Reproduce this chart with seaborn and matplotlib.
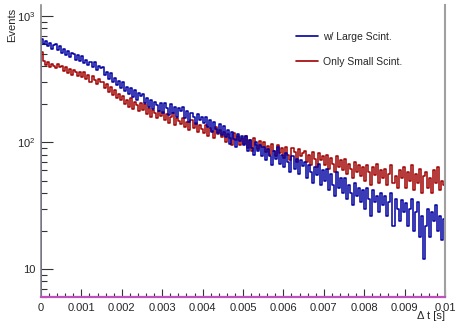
import numpy as np
import pandas as pd
import seaborn as sns
import matplotlib.pyplot as plt
from matplotlib.lines import Line2D
from matplotlib.ticker import FixedLocator, FixedFormatter, NullFormatter

# ---------------- data (counts per bin, 200 bins over 0 .. 0.01 s) ----------------
x_min, x_max, n_bins = 0.0, 0.01, 200

large_scint = [
    655, 598, 630, 575, 612, 548, 590, 603, 540, 575,
    505, 548, 492, 525, 470, 510, 498, 452, 487, 440,
    478, 425, 452, 410, 436, 395, 430, 372, 405, 388,
    392, 340, 360, 318, 352, 300, 326, 282, 305, 270,
    298, 255, 276, 240, 268, 228, 258, 215, 245, 232,
    240, 205, 226, 190, 218, 184, 210, 198, 178, 205,
    172, 205, 186, 165, 200, 170, 192, 160, 188, 176,
    190, 155, 178, 146, 172, 160, 140, 168, 150, 158,
    142, 160, 132, 150, 122, 145, 128, 118, 140, 115,
    134, 110, 125, 98, 120, 106, 92, 116, 102, 112,
    96, 112, 85, 104, 90, 80, 100, 86, 96, 78,
    92, 72, 88, 78, 66, 86, 74, 92, 68, 80,
    64, 82, 70, 58, 78, 62, 74, 56, 72, 65,
    70, 52, 66, 58, 48, 64, 55, 68, 46, 60,
    50, 62, 42, 56, 46, 38, 58, 44, 52, 40,
    52, 36, 46, 40, 32, 48, 38, 44, 34, 42,
    30, 44, 36, 26, 42, 34, 38, 28, 40, 32,
    38, 26, 34, 40, 22, 36, 30, 24, 35, 28,
    33, 22, 30, 36, 20, 28, 34, 18, 26, 12,
    22, 30, 18, 28, 24, 32, 20, 26, 17, 25,
]

small_scint = [
    520, 440, 412, 435, 398, 420, 402, 385, 418, 392,
    405, 370, 392, 355, 380, 340, 372, 362, 335, 358,
    330, 362, 318, 342, 300, 335, 312, 290, 320, 298,
    302, 270, 288, 250, 272, 238, 258, 226, 242, 215,
    232, 200, 218, 190, 225, 185, 210, 196, 178, 205,
    180, 200, 168, 188, 160, 182, 172, 155, 178, 162,
    175, 150, 168, 142, 160, 172, 138, 156, 148, 140,
    155, 132, 146, 125, 150, 130, 142, 120, 138, 128,
    118, 138, 112, 130, 124, 108, 132, 116, 126, 110,
    122, 100, 116, 108, 96, 118, 104, 112, 95, 108,
    98, 112, 90, 104, 86, 108, 95, 88, 102, 92,
    100, 84, 94, 80, 98, 86, 78, 96, 82, 90,
    76, 92, 80, 72, 90, 84, 70, 88, 78, 82,
    86, 70, 80, 66, 84, 74, 64, 82, 72, 78,
    66, 80, 62, 76, 68, 58, 78, 64, 72, 60,
    74, 56, 68, 62, 52, 70, 58, 66, 54, 64,
    50, 66, 58, 46, 64, 55, 68, 48, 60, 52,
    62, 46, 56, 66, 48, 54, 44, 60, 52, 64,
    44, 58, 50, 66, 42, 56, 48, 62, 40, 54,
    58, 44, 52, 40, 60, 48, 64, 42, 50, 46,
]

labels = ["w/ Large Scint.", "Only Small Scint."]
colors = ["#0000a0", "#a00000"]

x_ticks = [0, 0.001, 0.002, 0.003, 0.004, 0.005, 0.006, 0.007, 0.008, 0.009, 0.01]
x_tick_labels = ["0", "0.001", "0.002", "0.003", "0.004", "0.005",
                 "0.006", "0.007", "0.008", "0.009", "0.01"]
y_ticks = [10, 100, 1000]
y_tick_labels = ["10", r"$10^{2}$", r"$10^{3}$"]

# ---------------- figure ----------------
sns.set_style("white")
plt.rcParams["font.family"] = ["Liberation Sans", "DejaVu Sans"]
plt.rcParams["mathtext.fontset"] = "custom"
plt.rcParams["mathtext.rm"] = "Liberation Sans"

fig = plt.figure(figsize=(4.57, 3.22), dpi=100)
ax = fig.add_axes([41 / 457, 1 - 297 / 322, (445 - 41) / 457, (297 - 5) / 322])

edges = np.linspace(x_min, x_max, n_bins + 1)
centers = 0.5 * (edges[:-1] + edges[1:])

df = pd.DataFrame({
    "t": np.concatenate([centers, centers]),
    "counts": np.concatenate([small_scint, large_scint]).astype(float),
    "series": [labels[1]] * n_bins + [labels[0]] * n_bins,
})

ax.set_yscale("log")
for lab, col in [(labels[1], colors[1]), (labels[0], colors[0])]:
    sub = df[df["series"] == lab]
    sns.histplot(data=sub, x="t", weights="counts", bins=n_bins,
                 binrange=(x_min, x_max), element="step",
                 fill=False, color=col, linewidth=1.1, ax=ax, legend=False)
    ax.vlines(edges[0], 1, sub["counts"].iloc[0], color=col, linewidth=1.1)

ax.set_xlim(x_min, x_max)
ax.set_ylim(6, 1220)
ax.set_xlabel("")
ax.set_ylabel("")

# ticks
ax.xaxis.set_major_locator(FixedLocator(x_ticks))
ax.xaxis.set_major_formatter(FixedFormatter(x_tick_labels))
ax.xaxis.set_minor_locator(FixedLocator(np.arange(0, 0.01001, 0.0002)))
ax.yaxis.set_major_locator(FixedLocator(y_ticks))
ax.yaxis.set_major_formatter(FixedFormatter(y_tick_labels))
minor_y = [m * 10 ** e for e in range(0, 4) for m in range(2, 10) if 6 <= m * 10 ** e <= 1220]
ax.yaxis.set_minor_locator(FixedLocator(minor_y))
ax.yaxis.set_minor_formatter(NullFormatter())

ax.tick_params(axis="x", which="major", direction="in", length=5.8, width=0.8,
               color="#333333", labelsize=8, pad=4, bottom=True, top=False)
ax.tick_params(axis="x", which="minor", direction="in", length=3, width=0.8,
               color="#333333", bottom=True, top=False)
ax.tick_params(axis="y", which="major", direction="in", length=8.6, width=0.8,
               color="#333333", labelsize=8, pad=4, left=True, right=False)
ax.tick_params(axis="y", which="minor", direction="in", length=4.3, width=0.8,
               color="#333333", left=True, right=False)

ax.spines["left"].set_color("#888888")
ax.spines["left"].set_linewidth(1.2)
ax.spines["right"].set_color("#a0a0a0")
ax.spines["right"].set_linewidth(1.5)
ax.spines["top"].set_visible(False)
ax.spines["bottom"].set_color("#c050c0")
ax.spines["bottom"].set_linewidth(1.6)

# axis titles
fig.text(12 / 457, 1 - 8 / 322, "Events", rotation=90, ha="center", va="top", fontsize=8)
fig.text(445 / 457, 1 - 316 / 322, "Δ t [s]", ha="right", va="center", fontsize=8)

# legend
handles = [Line2D([0], [0], color=c, linewidth=1.2) for c in colors]
fig.legend(handles, labels, loc="upper left", bbox_to_anchor=(296 / 457, 1 - 32 / 322),
           frameon=False, fontsize=7.5, handlelength=2.1, handletextpad=0.5,
           labelspacing=1.4, borderpad=0, borderaxespad=0)

fig.savefig("out.png", dpi=100)
